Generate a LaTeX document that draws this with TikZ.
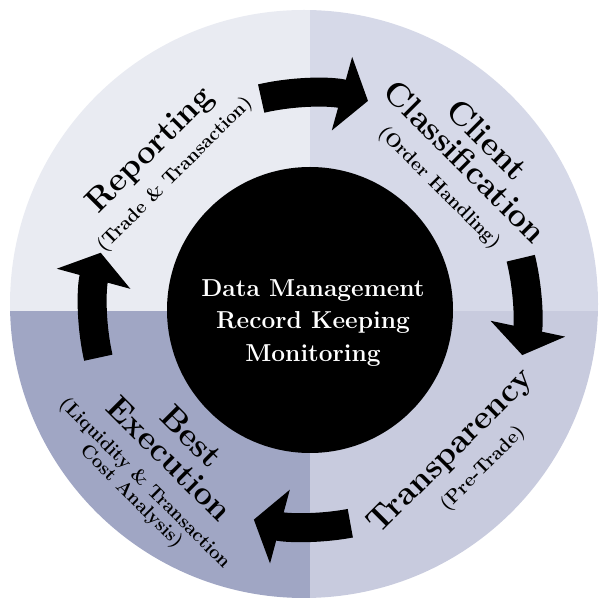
\documentclass[tikz,border=0pt]{standalone}
\usepackage{fontspec}
\usepackage{tikz}
\usetikzlibrary{
	arrows.meta,
	positioning
}

\definecolor{quadTL}{RGB}{233,235,242}
\definecolor{quadTR}{RGB}{214,217,232}
\definecolor{quadBR}{RGB}{200,203,222}
\definecolor{quadBL}{RGB}{160,166,196}

\newcommand{\subtxt}{\fontsize{19}{21}\selectfont}

\begin{document}
\begin{tikzpicture}[x=1pt,y=1pt,
		hub/.style={circle,fill=black,minimum size=286pt,inner sep=0pt},
		stage/.style={align=center,inner sep=0pt,
			font=\fontsize{33}{31}\selectfont\bfseries},
		cyclearrow/.style={line width=29pt,
			-{Triangle[length=27pt,width=75pt]}}
	]
		\useasboundingbox (0,0) rectangle (601,605);

		% the four quadrants of the disc
		\begin{scope}
			\clip (304,301) circle (294);
			\fill[quadTL] (0,294)   rectangle (310,605);
			\fill[quadTR] (310,294) rectangle (601,605);
			\fill[quadBR] (310,0)   rectangle (601,294);
			\fill[quadBL] (0,0)     rectangle (310,294);
		\end{scope}

		\draw
			node[hub] (hub) at (310,295) {}
			node[align=center,text=white,inner sep=0pt,
				font=\fontsize{24.5}{32.5}\selectfont\bfseries]
				(core) at (313,282) {Data Management\\Record Keeping\\Monitoring}

			node[stage,rotate=45]  (report)  at (161,444)
				{Reporting\\ \subtxt (Trade \& Transaction)}
			node[stage,rotate=-45] (client)  at (464,442)
				{Client\\Classification\\ \subtxt (Order Handling)}
			node[stage,rotate=45]  (transp)  at (462,143)
				{Transparency\\ \subtxt\hspace*{20pt}(Pre-Trade)}
			node[stage,rotate=-45] (bestex)  at (162,139)
				{Best\\Execution\\[-2pt] \subtxt (Liquidity \& Transaction\\[-12pt] \subtxt Cost Analysis)}
		;

		% arrows running clockwise round the hub
		\draw[cyclearrow] ([shift={(103:217)}]hub.center)   arc[start angle=103,end angle=74.5,radius=217];
		\draw[cyclearrow] ([shift={(13.8:217)}]hub.center)  arc[start angle=13.8,end angle=-12,radius=217];
		\draw[cyclearrow] ([shift={(-79.3:217)}]hub.center) arc[start angle=-79.3,end angle=-105,radius=217];
		\draw[cyclearrow] ([shift={(192.7:217)}]hub.center) arc[start angle=192.7,end angle=164.7,radius=217];
	\end{tikzpicture}
\end{document}
